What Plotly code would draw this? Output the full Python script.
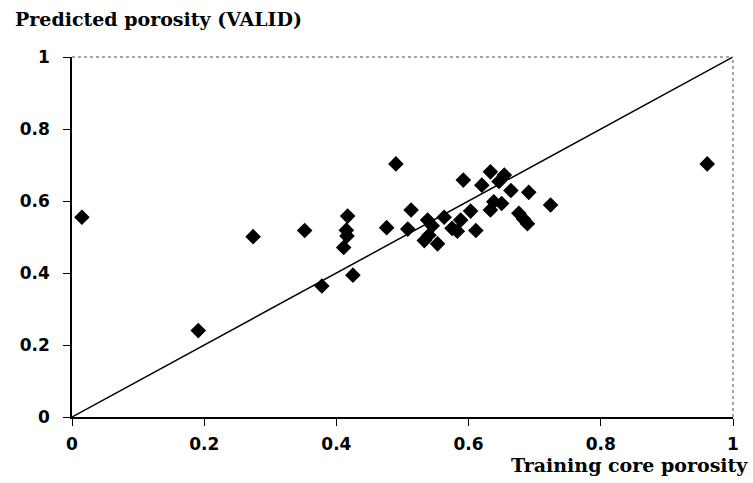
import plotly.graph_objects as go

# Training core porosity (x) vs predicted porosity (y)
core_porosity = [0.015, 0.191, 0.274, 0.352, 0.378, 0.417, 0.415, 0.416, 0.411, 0.425,
                 0.476, 0.490, 0.508, 0.513, 0.533, 0.538, 0.545, 0.540, 0.553, 0.563,
                 0.575, 0.583, 0.588, 0.603, 0.611, 0.592, 0.620, 0.633, 0.654, 0.646,
                 0.664, 0.691, 0.638, 0.650, 0.633, 0.676, 0.683, 0.689, 0.724, 0.961]
predicted_porosity = [0.555, 0.240, 0.501, 0.518, 0.364, 0.558, 0.519, 0.503, 0.471, 0.394,
                      0.526, 0.703, 0.522, 0.575, 0.490, 0.547, 0.531, 0.505, 0.481, 0.555,
                      0.524, 0.516, 0.547, 0.572, 0.518, 0.658, 0.644, 0.681, 0.672, 0.654,
                      0.629, 0.624, 0.598, 0.593, 0.575, 0.566, 0.550, 0.537, 0.589, 0.703]
line_x = [0, 1]
line_y = [0, 1]
tick_vals = [0, 0.2, 0.4, 0.6, 0.8, 1]
tick_text = ["0", "0.2", "0.4", "0.6", "0.8", "1"]

fig = go.Figure()
fig.add_trace(go.Scatter(x=line_x, y=line_y, mode="lines",
                         line=dict(color="black", width=1.5), hoverinfo="skip"))
fig.add_trace(go.Scatter(x=core_porosity, y=predicted_porosity, mode="markers",
                         marker=dict(symbol="diamond", size=12, color="black")))

axis_font = dict(family="DejaVu Sans", size=17, color="black", weight="bold")
fig.update_xaxes(range=[0, 1], tickvals=tick_vals, ticktext=tick_text,
                 showgrid=False, zeroline=False, showline=True, linecolor="black",
                 linewidth=1.5, ticks="outside", ticklen=7, tickcolor="black",
                 tickfont=axis_font, ticklabelstandoff=4)
fig.update_yaxes(range=[0, 1], tickvals=tick_vals, ticktext=tick_text,
                 showgrid=False, zeroline=False, showline=True, linecolor="black",
                 linewidth=1.5, ticks="outside", ticklen=7, tickcolor="black",
                 tickfont=axis_font, ticklabelstandoff=10)

# dotted top and right frame
fig.add_shape(type="line", xref="paper", yref="paper", x0=0, y0=1, x1=1, y1=1,
              line=dict(color="#888888", width=1.5, dash="dot"))
fig.add_shape(type="line", xref="paper", yref="paper", x0=1, y0=0, x1=1, y1=1,
              line=dict(color="#888888", width=1.5, dash="dot"))

title_font = dict(family="DejaVu Serif", size=19, color="black", weight="bold")
fig.add_annotation(text="Predicted porosity (VALID)", xref="paper", yref="paper",
                   x=-0.09, y=1.105, xanchor="left", yanchor="middle",
                   showarrow=False, font=title_font)
fig.add_annotation(text="Training core porosity", xref="paper", yref="paper",
                   x=1.026, y=-0.133, xanchor="right", yanchor="middle",
                   showarrow=False, font=title_font)

fig.update_layout(width=753, height=483, showlegend=False,
                  plot_bgcolor="white", paper_bgcolor="white",
                  margin=dict(l=72, r=20, t=57, b=66))
fig.write_html("out.html")
